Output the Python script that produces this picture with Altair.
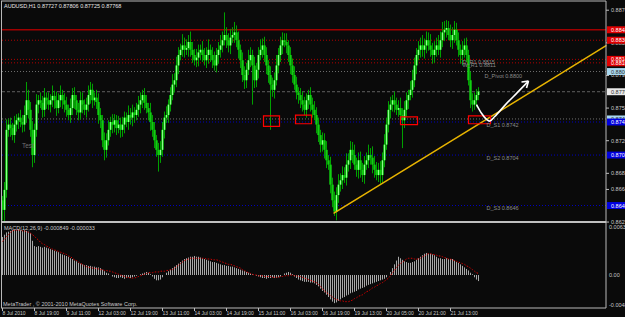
import altair as alt
import pandas as pd

W, H = 625, 317

# ---------------- price data (pips, 4 digits) ----------------
first_open = 8652
closes = [
    8641, 8664, 8733, 8739, 8735, 8727, 8739, 8744, 8747, 8742, 8739, 8750, 8767, 8756, 8733, 8704, 8733, 8762, 8767, 8764,
    8756, 8770, 8767, 8762, 8767, 8772, 8767, 8758, 8767, 8773, 8767, 8762, 8756, 8750, 8758, 8773, 8767, 8756, 8753, 8767,
    8762, 8756, 8762, 8773, 8779, 8767, 8770, 8765, 8750, 8744, 8721, 8710, 8721, 8733, 8742, 8739, 8744, 8735, 8739, 8733,
    8739, 8747, 8742, 8750, 8747, 8753, 8750, 8756, 8762, 8767, 8773, 8764, 8758, 8753, 8742, 8733, 8721, 8710, 8704, 8710,
    8733, 8747, 8750, 8762, 8773, 8785, 8790, 8807, 8819, 8825, 8830, 8825, 8827, 8834, 8825, 8819, 8813, 8816, 8822, 8825,
    8819, 8813, 8819, 8825, 8819, 8813, 8807, 8819, 8825, 8830, 8836, 8842, 8836, 8830, 8839, 8842, 8845, 8836, 8825, 8813,
    8796, 8790, 8802, 8813, 8819, 8807, 8790, 8802, 8819, 8825, 8830, 8819, 8807, 8796, 8785, 8779, 8790, 8807, 8819, 8830,
    8836, 8834, 8830, 8819, 8807, 8796, 8785, 8776, 8773, 8767, 8762, 8756, 8767, 8773, 8762, 8756, 8750, 8739, 8727, 8716,
    8721, 8710, 8698, 8693, 8670, 8652, 8639, 8658, 8670, 8675, 8681, 8678, 8693, 8698, 8710, 8704, 8693, 8687, 8698, 8687,
    8681, 8693, 8698, 8704, 8701, 8693, 8687, 8681, 8687, 8681, 8698, 8716, 8739, 8756, 8762, 8767, 8762, 8756, 8758, 8750,
    8744, 8756, 8767, 8773, 8779, 8790, 8807, 8819, 8825, 8830, 8825, 8830, 8836, 8830, 8825, 8819, 8825, 8830, 8825, 8836,
    8845, 8848, 8850, 8842, 8836, 8842, 8848, 8836, 8825, 8819, 8825, 8830, 8819, 8790, 8767, 8762, 8767, 8773, 8777,
]
hi_wick = [
    5, 9, 12, 7, 8, 6, 10, 7, 5, 9, 8, 11, 21, 12, 9, 10, 7, 12, 6, 9,
    8, 11, 6, 9, 7, 12, 6, 10, 8, 11, 6, 8, 9, 6, 11, 8, 9, 6, 8, 10,
    9, 6, 8, 11, 9, 7, 6, 9, 10, 8, 6, 9, 8, 11, 6, 9, 7, 6, 10, 8,
    9, 7, 6, 11, 8, 9, 6, 8, 10, 9, 6, 8, 9, 6, 11, 8, 9, 6, 8, 10,
    9, 7, 10, 6, 9, 12, 8, 10, 9, 7, 13, 9, 10, 8, 12, 9, 7, 10, 9, 6,
    10, 8, 9, 12, 6, 9, 10, 8, 9, 12, 10, 26, 9, 8, 10, 9, 12, 8, 10, 6,
    9, 10, 8, 12, 9, 6, 10, 8, 9, 12, 8, 10, 9, 6, 10, 8, 9, 12, 8, 10,
    9, 8, 10, 6, 9, 8, 10, 9, 6, 8, 10, 9, 8, 6, 9, 8, 10, 9, 8, 6,
    9, 8, 10, 6, 9, 8, 10, 9, 12, 8, 10, 9, 13, 8, 10, 9, 12, 8, 9, 10,
    8, 10, 9, 12, 8, 13, 10, 9, 8, 10, 9, 12, 8, 10, 9, 6, 10, 8, 9, 12,
    8, 10, 9, 6, 10, 12, 9, 8, 10, 9, 12, 8, 10, 9, 13, 8, 10, 9, 12, 10,
    12, 10, 9, 8, 12, 9, 10, 8, 9, 6, 10, 8, 9, 6, 10, 8, 9, 7, 5,
]
lo_wick = [
    12, 14, 9, 8, 10, 6, 9, 8, 10, 6, 9, 8, 9, 10, 8, 14, 9, 8, 10, 6,
    9, 8, 10, 6, 9, 8, 10, 9, 6, 8, 10, 9, 8, 6, 9, 8, 10, 6, 9, 8,
    10, 6, 9, 8, 10, 9, 6, 8, 10, 9, 8, 12, 9, 6, 8, 10, 9, 8, 6, 9,
    8, 10, 6, 9, 8, 10, 9, 6, 8, 10, 9, 8, 6, 9, 10, 8, 9, 8, 19, 9,
    8, 10, 6, 9, 8, 6, 9, 8, 10, 6, 8, 9, 6, 10, 8, 9, 6, 8, 10, 9,
    8, 6, 9, 10, 8, 9, 6, 8, 10, 9, 8, 6, 9, 8, 10, 6, 9, 8, 10, 9,
    8, 10, 9, 6, 8, 45, 9, 8, 10, 6, 9, 8, 10, 9, 52, 8, 10, 6, 9, 8,
    10, 6, 9, 8, 10, 9, 6, 8, 10, 9, 8, 6, 9, 10, 8, 9, 6, 10, 8, 9,
    8, 10, 9, 6, 10, 8, 5, 10, 9, 8, 10, 6, 9, 8, 10, 9, 6, 8, 10, 9,
    8, 10, 6, 9, 8, 10, 9, 6, 8, 10, 9, 8, 6, 9, 10, 8, 9, 6, 8, 10,
    32, 9, 8, 10, 6, 9, 8, 10, 6, 9, 8, 10, 9, 6, 8, 10, 9, 8, 6, 9,
    8, 10, 9, 6, 8, 10, 9, 6, 8, 10, 12, 9, 8, 6, 9, 8, 6, 8, 6,
]

# ---------------- MACD (units of 1e-4) ----------------
macd_hist = [
    50, 53, 56, 57, 58, 59, 59, 59, 60, 59, 58, 59, 58, 57, 55, 45, 38, 37, 38, 37,
    36, 37, 36, 35, 34, 33, 32, 31, 30, 28, 27, 26, 25, 24, 22, 21, 19, 18, 16, 15,
    14, 13, 13, 12, 12, 11, 11, 10, 10, 9, 7, 5, 3, 2, 0, -2, -3, -4, -4, -3,
    -4, -5, -4, -3, -4, -3, -2, -1, 0, 1, 2, 3, 4, 3, 1, -2, -5, -7, -7, -6,
    -3, 0, 3, 5, 7, 9, 11, 13, 15, 17, 19, 21, 22, 23, 24, 24, 25, 24, 24, 23,
    22, 21, 20, 19, 18, 17, 17, 16, 15, 14, 13, 13, 12, 12, 11, 11, 10, 9, 8, 7,
    6, 5, 4, 3, 2, 1, 0, -1, -2, -3, -4, -4, -5, -4, -4, -3, -4, -4, -3, -2,
    0, 2, 3, 4, 3, 1, -2, -4, -6, -7, -8, -9, -9, -9, -10, -10, -11, -13, -15, -18,
    -21, -23, -26, -29, -32, -35, -37, -36, -34, -32, -30, -29, -27, -26, -24, -23, -22, -21, -19, -18,
    -17, -16, -14, -13, -12, -11, -10, -9, -8, -7, -6, -5, -3, 0, 4, 9, 14, 19, 24, 22,
    20, 18, 17, 16, 16, 17, 18, 20, 22, 24, 26, 28, 29, 28, 28, 27, 26, 24, 22, 22,
    21, 21, 22, 21, 21, 21, 19, 17, 16, 14, 12, 10, 8, 6, 3, 1, -3, -6, -8,
]
macd_signal = [
    44, 47, 50, 53, 56, 58, 59, 59, 59, 59, 58, 58, 57, 56, 55, 53, 51, 48, 46, 43,
    41, 40, 38, 37, 35, 34, 33, 32, 31, 30, 29, 28, 27, 25, 24, 22, 20, 19, 17, 15,
    14, 12, 11, 10, 10, 9, 9, 8, 8, 7, 7, 6, 6, 5, 5, 4, 3, 2, 1, 0,
    -1, -2, -3, -3, -4, -4, -4, -3, -2, -1, 0, 1, 2, 3, 3, 3, 4, 4, 4, 5,
    5, 5, 6, 6, 7, 7, 9, 11, 13, 15, 17, 19, 20, 21, 22, 22, 22, 22, 22, 22,
    22, 22, 21, 21, 21, 20, 20, 20, 19, 18, 17, 16, 15, 14, 14, 13, 12, 11, 10, 9,
    7, 6, 4, 3, 2, 1, 0, 0, -1, -1, -1, -2, -2, -2, -2, -3, -3, -3, -3, -2,
    -2, -1, -1, -1, 0, 0, -1, -1, -2, -2, -3, -4, -5, -6, -7, -8, -9, -10, -12, -15,
    -18, -21, -23, -25, -27, -29, -31, -32, -33, -34, -34, -35, -35, -35, -34, -33, -31, -30, -28, -27,
    -26, -24, -22, -21, -19, -17, -16, -14, -13, -11, -10, -8, -6, -4, -1, 3, 6, 10, 13, 15,
    17, 19, 21, 22, 22, 22, 21, 21, 21, 22, 24, 25, 27, 28, 28, 27, 27, 26, 25, 25,
    24, 23, 22, 21, 21, 20, 19, 18, 17, 16, 15, 14, 12, 11, 9, 7, 5, 3, 2,
]

# ---------------- axis labels ----------------
price_ticks = [0.88705, 0.88330, 0.87955, 0.87580, 0.87205, 0.86830, 0.86645, 0.86270]
macd_ticks = [0.006310, 0.0, -0.003940]
macd_tick_text = ["0.006310", "0.00", "-0.004860"]
time_tick_bar = [0, 16, 32, 48, 64, 80, 96, 112, 128, 144, 160, 176, 192, 208, 224]
time_tick_text = ["8 Jul 2010", "8 Jul 19:00", "9 Jul 11:00", "12 Jul 03:00", "12 Jul 19:00",
                  "13 Jul 11:00", "14 Jul 03:00", "14 Jul 19:00", "15 Jul 11:00", "16 Jul 03:00",
                  "16 Jul 19:00", "19 Jul 13:00", "20 Jul 05:00", "20 Jul 21:00", "21 Jul 13:00"]

# ---------------- horizontal levels ----------------
red_solid_levels = [0.8848]
red_dot_levels = [0.8836, 0.8814, 0.8810]
pivot_levels = [0.8800, 0.87455]
bid_level = [0.87768]
blue_levels = [0.8742, 0.8704, 0.8646]

level_text = ["D_R1 0.8815", "W_R1 0.8811", "D_Pivot 0.8800", "D_S1 0.8742", "D_S2 0.8704", "D_S3 0.8646"]
level_text_price = [0.8811, 0.8807, 0.8795, 0.8738, 0.8701, 0.8643]
level_text_bar = [230, 230, 241, 242, 242, 242]

# ---------------- drawn objects ----------------
trend_bar = [165.5, 302]
trend_price = [0.8637, 0.8830]
arrow_bar = [237, 239.5, 242, 243.5, 246, 251.5, 257.5, 263]
arrow_price = [0.8762, 0.8752, 0.8745, 0.8743, 0.8748, 0.8762, 0.8776, 0.8789]
head_bar = [259.5, 262]
head_price = [0.8788, 0.8781]
box_bar1 = [130.5, 146.5, 199, 233]
box_bar2 = [138.5, 154.5, 207.5, 244]
box_p1 = [0.8737, 0.8740, 0.8739, 0.8740]
box_p2 = [0.8749, 0.8750, 0.8748, 0.8749]

# ---------------- build tables ----------------
n = min(len(closes), len(hi_wick), len(lo_wick), len(macd_hist), len(macd_signal))
rows = []
prev = first_open
for i in range(n):
    o, c = prev, closes[i]
    rows.append(dict(i=i, open=o / 1e4, close=c / 1e4,
                     high=(max(o, c) + hi_wick[i]) / 1e4,
                     low=(min(o, c) - lo_wick[i]) / 1e4,
                     up=c >= o,
                     hist=macd_hist[i] * 1e-4, sig=macd_signal[i] * 1e-4, zero=0.0))
    prev = c
df = pd.DataFrame(rows)

XS = alt.Scale(domain=[-1.25, 311.25], nice=False, zero=False)
PS = alt.Scale(domain=[0.851786, 0.888223], nice=False, zero=False)
MS = alt.Scale(domain=[-0.005521, 0.036151], nice=False, zero=False)

def X(f):
    return alt.X(f, type="quantitative", scale=XS, axis=None)

def PY(f):
    return alt.Y(f, type="quantitative", scale=PS, axis=None)

def MY(f):
    return alt.Y(f, type="quantitative", scale=MS, axis=None)

FONT = "Liberation Sans"
base = alt.Chart(df)

wicks = base.mark_rule(color="#00a000", strokeWidth=1).encode(x=X("i"), y=PY("low"), y2="high")
bull_edge = base.transform_filter("datum.up").mark_rule(color="#00b400", strokeWidth=2.6).encode(
    x=X("i"), y=PY("open"), y2="close")
bull = base.transform_filter("datum.up").mark_rule(color="#8cff8c", strokeWidth=1.2).encode(
    x=X("i"), y=PY("open"), y2="close")
bear = base.transform_filter("!datum.up").mark_rule(color="#10d010", strokeWidth=2.4).encode(
    x=X("i"), y=PY("open"), y2="close")

hist = base.mark_rule(color="#a8a8a8", strokeWidth=1).encode(x=X("i"), y=MY("zero"), y2="hist")
sig = base.mark_line(color="#d00000", strokeWidth=1, strokeDash=[1.5, 1.5]).encode(x=X("i"), y=MY("sig"))

def hlines(vals, color, dash=None, width=1):
    kw = dict(color=color, strokeWidth=width)
    if dash:
        kw["strokeDash"] = dash
    return alt.Chart(pd.DataFrame({"p": vals})).mark_rule(**kw).encode(
        y=PY("p"), x=alt.value(2), x2=alt.value(606))

lv = [
    hlines(red_solid_levels, "#a00000", None, 1.5),
    hlines(red_dot_levels, "#b00000", [1, 2]),
    hlines(pivot_levels, "#707070", [1, 2]),
    hlines(bid_level, "#606060", [3, 2]),
    hlines(blue_levels, "#0000c0", [1, 2]),
]

ltext = alt.Chart(pd.DataFrame({"t": level_text, "p": level_text_price, "b": level_text_bar})).mark_text(
    align="left", baseline="middle", color="#8a8a8a", fontSize=5.5, font=FONT).encode(
    x=X("b"), y=PY("p"), text="t")

trend = alt.Chart(pd.DataFrame({"b": trend_bar, "p": trend_price})).mark_line(
    color="#e8b400", strokeWidth=1.5).encode(x=X("b"), y=PY("p"))
arrow = alt.Chart(pd.DataFrame({"b": arrow_bar, "p": arrow_price})).mark_line(
    color="#ffffff", strokeWidth=1.6, interpolate="monotone").encode(x=X("b"), y=PY("p"))
head = alt.Chart(pd.DataFrame({"b": head_bar, "p": head_price, "b2": [arrow_bar[-1]] * 2,
                               "p2": [arrow_price[-1]] * 2})).mark_rule(
    color="#ffffff", strokeWidth=1.6).encode(x=X("b"), y=PY("p"), x2="b2", y2="p2")
boxes = alt.Chart(pd.DataFrame({"b1": box_bar1, "b2": box_bar2, "p1": box_p1, "p2": box_p2})).mark_rect(
    filled=False, stroke="#ff0000", strokeWidth=1.2).encode(x=X("b1"), x2="b2", y=PY("p1"), y2="p2")

# price axis labels (right side)
pticks = pd.DataFrame({"p": price_ticks, "t": [f"{v:.5f}" for v in price_ticks]})
ptick_marks = alt.Chart(pticks).mark_rule(color="#c0c0c0").encode(
    y=PY("p"), x=alt.value(606), x2=alt.value(609))
ptick_text = alt.Chart(pticks).mark_text(align="left", baseline="middle", color="#c8c8c8",
                                         fontSize=5.5, font=FONT).encode(
    y=PY("p"), x=alt.value(611), text="t")

mticks = pd.DataFrame({"p": macd_ticks, "t": macd_tick_text})
mtick_text = alt.Chart(mticks).mark_text(align="left", baseline="middle", color="#c8c8c8",
                                         fontSize=5.5, font=FONT).encode(
    y=MY("p"), x=alt.value(609), text="t")

# coloured level price boxes on the right
def tags(vals, fill, txt):
    d = pd.DataFrame({"p": vals})
    d["lo"] = d["p"] - 0.0004
    d["hi"] = d["p"] + 0.0004
    d["t"] = [f"{v:.5f}" for v in vals]
    r = alt.Chart(d).mark_rect(color=fill).encode(y=PY("lo"), y2="hi", x=alt.value(607), x2=alt.value(625))
    t = alt.Chart(d).mark_text(align="left", baseline="middle", color=txt, fontSize=5.5, font=FONT).encode(
        y=PY("p"), x=alt.value(611), text="t")
    return [r, t]

tag_layers = (tags(red_solid_levels + red_dot_levels, "#e00000", "#ffffff")
              + tags(pivot_levels, "#a8d8f0", "#303030")
              + tags(bid_level, "#e8e8e8", "#303030")
              + tags(blue_levels, "#0000e0", "#ffffff"))

# time axis labels
tt = pd.DataFrame({"b": time_tick_bar, "t": time_tick_text})
time_text = alt.Chart(tt).mark_text(align="left", baseline="middle", color="#c8c8c8",
                                    fontSize=5, font=FONT).encode(x=X("b"), y=alt.value(313), text="t")
time_marks = alt.Chart(tt).mark_rule(color="#c0c0c0").encode(x=X("b"), y=alt.value(308), y2=alt.value(311))

# frame
frame_h = alt.Chart(pd.DataFrame({"y": [1, 308]})).mark_rule(color="#b8b8b8", strokeWidth=1).encode(
    y=alt.Y("y:Q", scale=None), x=alt.value(1), x2=alt.value(606))
sep = alt.Chart(pd.DataFrame({"y": [222]})).mark_rule(color="#c0c0c0", strokeWidth=2).encode(
    y=alt.Y("y:Q", scale=None), x=alt.value(1), x2=alt.value(606))
frame_v = alt.Chart(pd.DataFrame({"x": [1.5, 606]})).mark_rule(color="#b8b8b8", strokeWidth=1).encode(
    x=alt.X("x:Q", scale=None), y=alt.value(1), y2=alt.value(308))

def label(txt, x, y, color="#e0e0e0", size=5.5):
    return alt.Chart(pd.DataFrame({"t": [txt]})).mark_text(
        align="left", baseline="middle", color=color, fontSize=size, font=FONT).encode(
        x=alt.value(x), y=alt.value(y), text="t")

texts = [
    label("AUDUSD,H1  0.87727 0.87806 0.87725 0.87768", 4, 6, "#e8e8e8"),
    label("MACD(12,26,9) -0.000849 -0.000033", 4, 228, "#c8c8c8"),
    label("MetaTrader , \u00a9 2001-2010 MetaQuotes Software Corp.", 3, 304, "#c8c8c8"),
    label("Test", 22, 146, "#707070", 6.5),
]

chart = alt.layer(
    *lv, hist, sig, wicks, bull_edge, bull, bear, trend, boxes, arrow, head, ltext,
    ptick_marks, ptick_text, mtick_text, *tag_layers, time_marks, time_text,
    frame_h, frame_v, sep, *texts,
).resolve_scale(y="independent", x="independent").properties(
    width=W, height=H, padding=0,
    autosize=alt.AutoSizeParams(type="none"),
    background="#0a0a0a",
).configure_view(strokeWidth=0)

chart.save("out.html", embed_options={"renderer": "svg", "actions": False})
